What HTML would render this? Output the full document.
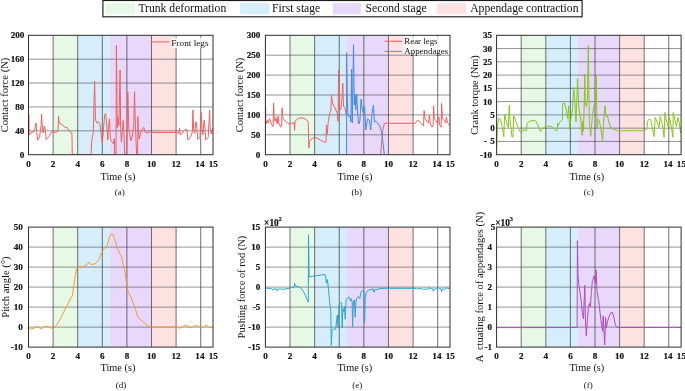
<!DOCTYPE html>
<html lang="en"><head><meta charset="utf-8"><title>Figure</title>
<style>html,body{margin:0;padding:0;background:#fff}body{width:685px;height:391px;overflow:hidden}</style>
</head><body>
<svg width="685" height="391" viewBox="0 0 685 391" style="display:block;font-family:'Liberation Serif', 'DejaVu Serif', serif">
<rect width="685" height="391" fill="#fff"/>
<g class="legend">
<rect x="102.9" y="0.5" width="479.2" height="16.3" fill="#fff" stroke="#1a1a1a" stroke-width="1.15"/>
<rect x="105.5" y="3.1" width="29.5" height="11.2" fill="#e6f9e6"/>
<text x="138.4" y="12.3" font-size="11.65" fill="#111">Trunk deformation</text>
<rect x="240.1" y="3.1" width="29.4" height="11.2" fill="#d6eefc"/>
<text x="272.1" y="12.3" font-size="11.65" fill="#111">First stage</text>
<rect x="332.9" y="3.1" width="28.2" height="11.2" fill="#e8d8fb"/>
<text x="365.6" y="12.3" font-size="11.65" fill="#111">Second stage</text>
<rect x="436.8" y="3.1" width="29.2" height="11.2" fill="#fee2e2"/>
<text x="470.2" y="12.3" font-size="11.65" fill="#111">Appendage contraction</text>
</g>
<g class="plot-a">
<rect x="53.10" y="35.3" width="24.60" height="119.40" fill="#e6f9e6"/>
<rect x="77.70" y="35.3" width="31.98" height="119.40" fill="#d6eefc"/>
<rect x="109.68" y="35.3" width="41.82" height="119.40" fill="#e8d8fb"/>
<rect x="151.50" y="35.3" width="24.60" height="119.40" fill="#fee2e2"/>
<path d="M53.10 35.3V154.7M77.70 35.3V154.7M102.30 35.3V154.7M126.90 35.3V154.7M151.50 35.3V154.7M176.10 35.3V154.7M200.70 35.3V154.7" stroke="#303030" stroke-width="0.68" fill="none"/>
<path d="M28.5 59.18H213.0M28.5 83.06H213.0M28.5 106.94H213.0M28.5 130.82H213.0" stroke="#303030" stroke-width="0.52" fill="none"/>
<polyline fill="none" stroke="#f2605e" stroke-width="1.0" stroke-linejoin="round" points="29.0,114.6 29.2,134.6 30.4,134.1 31.9,131.5 33.4,132.6 35.0,128.4 36.1,123.0 36.5,130.7 37.6,140.2 39.6,136.9 41.1,125.3 41.6,114.1 42.2,126.1 43.1,133.0 44.2,126.1 45.0,127.6 46.2,139.6 48.0,137.6 50.3,134.1 52.6,130.7 54.2,132.6 58.0,131.5 58.5,116.1 59.2,123.0 61.9,124.6 65.2,127.3 67.2,127.6 69.5,131.5 71.9,133.0 72.3,154.5 91.1,154.5 91.8,139.9 93.3,132.4 94.6,81.0 95.5,120.0 97.2,123.3 98.3,121.6 99.8,123.6 102.3,143.1 104.7,114.6 105.8,113.7 106.7,125.4 107.8,140.0 108.6,126.2 109.5,118.9 110.3,138.3 111.8,141.8 113.5,143.5 114.3,138.7 114.7,154.5 116.0,154.5 116.4,45.2 117.3,128.0 118.0,116.8 118.9,125.4 120.1,70.0 120.7,131.2 121.4,142.0 122.3,131.2 123.1,120.5 124.0,134.8 124.7,154.5 126.7,154.5 127.8,91.6 128.8,128.3 130.9,140.8 132.6,135.0 133.8,123.3 134.5,91.5 135.4,125.0 136.6,154.5 137.6,154.5 137.9,116.6 138.4,128.3 139.2,139.1 141.2,130.8 143.7,127.4 145.4,132.4 147.9,132.9 150.4,131.9 152.1,132.4 176.6,132.4 177.5,132.4 178.6,133.6 179.6,128.3 180.3,134.9 182.4,133.3 184.1,130.3 186.3,129.1 186.9,129.9 187.9,139.9 190.8,136.6 192.4,131.6 192.9,110.0 193.6,128.3 194.6,133.3 195.8,121.6 196.6,125.0 197.9,139.6 199.9,137.4 201.2,112.5 201.9,128.3 202.9,134.9 204.1,120.0 204.9,126.6 205.7,139.9 208.2,137.4 209.6,110.3 210.2,126.6 211.2,134.1 212.9,128.3"/>
<rect x="28.5" y="35.3" width="184.50" height="119.40" fill="none" stroke="#2e2e2e" stroke-width="1"/>
<text x="24.3" y="38.30" font-size="9.1" font-weight="bold" text-anchor="end" fill="#111" stroke="#111" stroke-width="0.2">200</text>
<text x="24.3" y="62.18" font-size="9.1" font-weight="bold" text-anchor="end" fill="#111" stroke="#111" stroke-width="0.2">160</text>
<text x="24.3" y="86.06" font-size="9.1" font-weight="bold" text-anchor="end" fill="#111" stroke="#111" stroke-width="0.2">120</text>
<text x="24.3" y="109.94" font-size="9.1" font-weight="bold" text-anchor="end" fill="#111" stroke="#111" stroke-width="0.2">80</text>
<text x="24.3" y="133.82" font-size="9.1" font-weight="bold" text-anchor="end" fill="#111" stroke="#111" stroke-width="0.2">40</text>
<text x="24.3" y="157.70" font-size="9.1" font-weight="bold" text-anchor="end" fill="#111" stroke="#111" stroke-width="0.2">0</text>
<text x="28.50" y="167.10" font-size="9.1" font-weight="bold" text-anchor="middle" fill="#111" stroke="#111" stroke-width="0.2">0</text>
<text x="53.10" y="167.10" font-size="9.1" font-weight="bold" text-anchor="middle" fill="#111" stroke="#111" stroke-width="0.2">2</text>
<text x="77.70" y="167.10" font-size="9.1" font-weight="bold" text-anchor="middle" fill="#111" stroke="#111" stroke-width="0.2">4</text>
<text x="102.30" y="167.10" font-size="9.1" font-weight="bold" text-anchor="middle" fill="#111" stroke="#111" stroke-width="0.2">6</text>
<text x="126.90" y="167.10" font-size="9.1" font-weight="bold" text-anchor="middle" fill="#111" stroke="#111" stroke-width="0.2">8</text>
<text x="151.50" y="167.10" font-size="9.1" font-weight="bold" text-anchor="middle" fill="#111" stroke="#111" stroke-width="0.2">10</text>
<text x="176.10" y="167.10" font-size="9.1" font-weight="bold" text-anchor="middle" fill="#111" stroke="#111" stroke-width="0.2">12</text>
<text x="199.90" y="167.10" font-size="9.1" font-weight="bold" text-anchor="middle" fill="#111" stroke="#111" stroke-width="0.2">14</text>
<text x="213.30" y="167.10" font-size="9.1" font-weight="bold" text-anchor="middle" fill="#111" stroke="#111" stroke-width="0.2">15</text>
<text x="117.95" y="179.90" font-size="10.3" text-anchor="middle" fill="#111">Time (s)</text>
<text x="119.85" y="194.60" font-size="9" text-anchor="middle" fill="#111">(a)</text>
<text transform="translate(7.5 95.00) rotate(-90)" font-size="10.6" text-anchor="middle" fill="#111">Contact force (N)</text>
</g>
<g class="plot-b">
<rect x="290.01" y="35.3" width="24.61" height="119.40" fill="#e6f9e6"/>
<rect x="314.63" y="35.3" width="32.00" height="119.40" fill="#d6eefc"/>
<rect x="346.62" y="35.3" width="41.84" height="119.40" fill="#e8d8fb"/>
<rect x="388.47" y="35.3" width="24.61" height="119.40" fill="#fee2e2"/>
<path d="M290.01 35.3V154.7M314.63 35.3V154.7M339.24 35.3V154.7M363.85 35.3V154.7M388.47 35.3V154.7M413.08 35.3V154.7M437.69 35.3V154.7" stroke="#303030" stroke-width="0.68" fill="none"/>
<path d="M265.4 55.20H450.0M265.4 75.10H450.0M265.4 95.00H450.0M265.4 114.90H450.0M265.4 134.80H450.0" stroke="#303030" stroke-width="0.52" fill="none"/>
<polyline fill="none" stroke="#f2605e" stroke-width="1.0" stroke-linejoin="round" points="265.6,106.1 265.9,124.0 267.4,120.4 268.3,123.1 269.5,118.6 271.8,124.9 273.1,126.7 273.6,102.9 274.2,118.6 274.9,121.3 276.0,117.7 277.2,124.0 278.1,116.0 279.0,124.0 280.8,127.2 281.7,124.9 282.1,107.9 282.8,117.7 284.4,120.4 287.1,122.6 288.9,124.0 291.5,123.7 294.2,122.6 294.6,130.3 295.1,121.3 297.8,118.6 300.5,117.9 304.1,118.3 306.8,120.1 308.2,122.2 308.9,148.2 309.4,141.9 312.1,138.3 314.8,137.4 317.5,138.3 321.1,140.5 324.7,142.3 326.1,141.9 326.4,124.9 327.3,133.9 328.2,122.2 329.7,113.3 330.9,110.6 331.4,95.2 332.7,103.4 335.4,108.8 337.2,113.3 338.1,121.3 338.6,69.9 339.4,107.9 340.8,109.7 341.7,100.7 342.8,83.3 343.5,106.1 344.9,107.9 346.2,115.1"/>
<polyline fill="none" stroke="#f2605e" stroke-width="1.0" stroke-linejoin="round" points="380.7,154.5 381.4,145.5 382.9,129.4 384.3,123.6 386.4,122.9 387.4,123.3 415.1,123.3 416.9,120.8 418.7,120.4 420.5,122.6 422.3,124.9 423.5,125.8 424.1,110.6 425.0,118.6 426.8,121.3 428.5,123.1 429.4,115.1 430.3,124.0 432.1,127.2 433.2,125.8 433.6,105.8 434.3,118.6 435.7,120.4 437.5,123.1 438.9,116.9 439.6,124.9 441.1,127.2 441.6,103.4 442.5,118.6 444.3,120.4 445.6,123.1 446.4,116.9 447.3,122.2 449.1,124.9 449.9,125.8"/>
<polyline fill="none" stroke="#3b8ee8" stroke-width="1.0" stroke-linejoin="round" points="346.6,154.5 346.6,52.6 347.3,100.0 347.9,113.6 349.0,117.0 350.2,116.0 350.9,122.0 351.6,69.0 352.3,123.0 353.5,44.8 354.3,105.0 355.2,95.0 355.8,110.0 356.7,94.0 357.6,113.0 358.6,124.0 359.8,122.0 361.1,99.0 362.3,110.0 363.4,113.0 364.5,106.0 365.8,130.0 367.5,119.0 369.3,120.0 370.7,130.0 372.1,113.0 373.5,105.0 374.4,122.0 375.7,121.0 378.4,124.0 380.2,126.7 381.4,131.2 382.9,141.9 384.3,154.5"/>
<rect x="265.4" y="35.3" width="184.60" height="119.40" fill="none" stroke="#2e2e2e" stroke-width="1"/>
<text x="260.3" y="38.30" font-size="9.1" font-weight="bold" text-anchor="end" fill="#111" stroke="#111" stroke-width="0.2">300</text>
<text x="260.3" y="58.20" font-size="9.1" font-weight="bold" text-anchor="end" fill="#111" stroke="#111" stroke-width="0.2">250</text>
<text x="260.3" y="78.10" font-size="9.1" font-weight="bold" text-anchor="end" fill="#111" stroke="#111" stroke-width="0.2">200</text>
<text x="260.3" y="98.00" font-size="9.1" font-weight="bold" text-anchor="end" fill="#111" stroke="#111" stroke-width="0.2">150</text>
<text x="260.3" y="117.90" font-size="9.1" font-weight="bold" text-anchor="end" fill="#111" stroke="#111" stroke-width="0.2">100</text>
<text x="260.3" y="137.80" font-size="9.1" font-weight="bold" text-anchor="end" fill="#111" stroke="#111" stroke-width="0.2">50</text>
<text x="260.3" y="157.70" font-size="9.1" font-weight="bold" text-anchor="end" fill="#111" stroke="#111" stroke-width="0.2">0</text>
<text x="265.40" y="167.10" font-size="9.1" font-weight="bold" text-anchor="middle" fill="#111" stroke="#111" stroke-width="0.2">0</text>
<text x="290.01" y="167.10" font-size="9.1" font-weight="bold" text-anchor="middle" fill="#111" stroke="#111" stroke-width="0.2">2</text>
<text x="314.63" y="167.10" font-size="9.1" font-weight="bold" text-anchor="middle" fill="#111" stroke="#111" stroke-width="0.2">4</text>
<text x="339.24" y="167.10" font-size="9.1" font-weight="bold" text-anchor="middle" fill="#111" stroke="#111" stroke-width="0.2">6</text>
<text x="363.85" y="167.10" font-size="9.1" font-weight="bold" text-anchor="middle" fill="#111" stroke="#111" stroke-width="0.2">8</text>
<text x="388.47" y="167.10" font-size="9.1" font-weight="bold" text-anchor="middle" fill="#111" stroke="#111" stroke-width="0.2">10</text>
<text x="413.08" y="167.10" font-size="9.1" font-weight="bold" text-anchor="middle" fill="#111" stroke="#111" stroke-width="0.2">12</text>
<text x="436.89" y="167.10" font-size="9.1" font-weight="bold" text-anchor="middle" fill="#111" stroke="#111" stroke-width="0.2">14</text>
<text x="450.30" y="167.10" font-size="9.1" font-weight="bold" text-anchor="middle" fill="#111" stroke="#111" stroke-width="0.2">15</text>
<text x="355.00" y="179.90" font-size="10.3" text-anchor="middle" fill="#111">Time (s)</text>
<text x="356.85" y="194.60" font-size="9" text-anchor="middle" fill="#111">(b)</text>
<text transform="translate(242.9 95.00) rotate(-90)" font-size="10.6" text-anchor="middle" fill="#111">Contact force (N)</text>
</g>
<g class="plot-c">
<rect x="521.20" y="35.3" width="24.60" height="119.40" fill="#e6f9e6"/>
<rect x="545.80" y="35.3" width="31.98" height="119.40" fill="#d6eefc"/>
<rect x="577.78" y="35.3" width="41.82" height="119.40" fill="#e8d8fb"/>
<rect x="619.60" y="35.3" width="24.60" height="119.40" fill="#fee2e2"/>
<path d="M521.20 35.3V154.7M545.80 35.3V154.7M570.40 35.3V154.7M595.00 35.3V154.7M619.60 35.3V154.7M644.20 35.3V154.7M668.80 35.3V154.7" stroke="#303030" stroke-width="0.68" fill="none"/>
<path d="M496.6 48.57H681.1M496.6 61.83H681.1M496.6 75.10H681.1M496.6 88.37H681.1M496.6 101.63H681.1M496.6 114.90H681.1M496.6 128.17H681.1M496.6 141.43H681.1" stroke="#303030" stroke-width="0.52" fill="none"/>
<polyline fill="none" stroke="#86c716" stroke-width="1.0" stroke-linejoin="round" points="496.7,148.2 497.2,128.3 498.8,118.3 500.5,119.1 502.2,127.4 503.8,136.6 504.6,114.1 506.3,121.6 508.3,127.4 509.3,105.3 510.0,120.0 511.0,128.3 512.1,137.4 513.0,136.6 513.6,115.8 515.5,120.0 518.0,127.4 520.5,132.4 523.0,130.8 525.4,129.9 526.3,130.8 527.1,123.3 529.6,121.3 532.9,120.3 535.4,120.8 537.1,123.3 538.8,127.4 540.4,131.6 542.1,129.1 544.6,127.4 547.1,126.5 549.6,126.1 552.1,126.8 554.6,129.3 556.4,131.0 557.3,130.0 557.6,123.2 558.5,125.5 559.4,122.4 561.3,120.8 562.4,119.6 562.7,103.6 564.5,103.3 566.1,108.9 567.7,118.6 568.7,105.8 569.7,129.5 570.8,119.0 572.5,110.0 573.7,87.3 574.7,98.4 576.0,122.0 576.8,100.5 577.5,78.3 578.8,108.7 580.5,116.8 582.1,135.3 582.9,120.9 583.5,131.2 584.3,100.5 584.7,74.4 585.4,104.6 586.4,106.6 587.4,100.5 588.3,45.3 589.3,120.9 590.7,136.3 592.3,116.8 593.8,106.6 595.2,100.5 596.3,75.8 597.0,129.1 597.9,118.9 599.3,120.9 600.9,129.1 602.6,141.4 603.6,120.9 605.0,105.6 606.0,116.8 607.5,115.8 609.1,123.0 611.2,128.1 613.2,129.1 616.3,130.1 618.9,131.6 621.4,130.8 629.6,130.7 644.1,130.7 644.9,129.6 646.9,129.1 647.4,121.6 649.1,119.1 650.8,119.9 652.4,128.3 654.1,136.6 655.2,117.4 656.9,121.6 659.1,127.4 660.2,116.6 661.6,121.6 662.9,128.3 664.1,137.4 664.9,112.5 666.2,119.9 668.2,126.6 669.4,117.4 670.7,123.3 671.9,130.7 672.9,137.4 673.2,112.5 674.9,119.9 676.5,126.6 677.9,117.4 679.0,121.6 680.2,129.9 680.7,133.2"/>
<rect x="496.6" y="35.3" width="184.50" height="119.40" fill="none" stroke="#2e2e2e" stroke-width="1"/>
<text x="492.0" y="38.30" font-size="9.1" font-weight="bold" text-anchor="end" fill="#111" stroke="#111" stroke-width="0.2">35</text>
<text x="492.0" y="51.57" font-size="9.1" font-weight="bold" text-anchor="end" fill="#111" stroke="#111" stroke-width="0.2">30</text>
<text x="492.0" y="64.83" font-size="9.1" font-weight="bold" text-anchor="end" fill="#111" stroke="#111" stroke-width="0.2">25</text>
<text x="492.0" y="78.10" font-size="9.1" font-weight="bold" text-anchor="end" fill="#111" stroke="#111" stroke-width="0.2">20</text>
<text x="492.0" y="91.37" font-size="9.1" font-weight="bold" text-anchor="end" fill="#111" stroke="#111" stroke-width="0.2">15</text>
<text x="492.0" y="104.63" font-size="9.1" font-weight="bold" text-anchor="end" fill="#111" stroke="#111" stroke-width="0.2">10</text>
<text x="494.9" y="117.90" font-size="9.1" font-weight="bold" text-anchor="end" fill="#111" stroke="#111" stroke-width="0.2">5</text>
<text x="494.9" y="131.17" font-size="9.1" font-weight="bold" text-anchor="end" fill="#111" stroke="#111" stroke-width="0.2">0</text>
<text x="494.9" y="144.43" font-size="9.1" font-weight="bold" text-anchor="end" fill="#111" stroke="#111" stroke-width="0.2">-  5</text>
<text x="492.0" y="157.70" font-size="9.1" font-weight="bold" text-anchor="end" fill="#111" stroke="#111" stroke-width="0.2">-10</text>
<text x="496.60" y="167.10" font-size="9.1" font-weight="bold" text-anchor="middle" fill="#111" stroke="#111" stroke-width="0.2">0</text>
<text x="521.20" y="167.10" font-size="9.1" font-weight="bold" text-anchor="middle" fill="#111" stroke="#111" stroke-width="0.2">2</text>
<text x="545.80" y="167.10" font-size="9.1" font-weight="bold" text-anchor="middle" fill="#111" stroke="#111" stroke-width="0.2">4</text>
<text x="570.40" y="167.10" font-size="9.1" font-weight="bold" text-anchor="middle" fill="#111" stroke="#111" stroke-width="0.2">6</text>
<text x="595.00" y="167.10" font-size="9.1" font-weight="bold" text-anchor="middle" fill="#111" stroke="#111" stroke-width="0.2">8</text>
<text x="619.60" y="167.10" font-size="9.1" font-weight="bold" text-anchor="middle" fill="#111" stroke="#111" stroke-width="0.2">10</text>
<text x="644.20" y="167.10" font-size="9.1" font-weight="bold" text-anchor="middle" fill="#111" stroke="#111" stroke-width="0.2">12</text>
<text x="668.00" y="167.10" font-size="9.1" font-weight="bold" text-anchor="middle" fill="#111" stroke="#111" stroke-width="0.2">14</text>
<text x="681.40" y="167.10" font-size="9.1" font-weight="bold" text-anchor="middle" fill="#111" stroke="#111" stroke-width="0.2">15</text>
<text x="586.85" y="179.90" font-size="10.3" text-anchor="middle" fill="#111">Time (s)</text>
<text x="588.65" y="194.60" font-size="9" text-anchor="middle" fill="#111">(c)</text>
<text transform="translate(478.4 95.00) rotate(-90)" font-size="10.4" text-anchor="middle" fill="#111">Crank torque (Nm)</text>
</g>
<g class="plot-d">
<rect x="53.10" y="227.1" width="24.60" height="120.00" fill="#e6f9e6"/>
<rect x="77.70" y="227.1" width="31.98" height="120.00" fill="#d6eefc"/>
<rect x="109.68" y="227.1" width="41.82" height="120.00" fill="#e8d8fb"/>
<rect x="151.50" y="227.1" width="24.60" height="120.00" fill="#fee2e2"/>
<path d="M53.10 227.1V347.1M77.70 227.1V347.1M102.30 227.1V347.1M126.90 227.1V347.1M151.50 227.1V347.1M176.10 227.1V347.1M200.70 227.1V347.1" stroke="#303030" stroke-width="0.68" fill="none"/>
<path d="M28.5 247.10H213.0M28.5 267.10H213.0M28.5 287.10H213.0M28.5 307.10H213.0M28.5 327.10H213.0" stroke="#303030" stroke-width="0.52" fill="none"/>
<polyline fill="none" stroke="#f59a2a" stroke-width="1.0" stroke-linejoin="round" points="28.8,327.9 31.4,329.2 34.6,327.9 37.8,326.3 41.0,329.2 44.2,326.6 47.4,326.3 50.6,327.9 53.8,328.2 56.9,324.7 60.1,319.2 63.3,312.9 66.5,306.5 69.7,300.1 72.3,295.9 73.6,287.3 75.5,274.5 77.1,267.5 79.3,266.9 84.1,266.5 87.3,264.3 88.9,262.1 90.5,264.0 92.7,264.6 95.9,263.3 98.5,260.1 101.0,253.8 103.3,249.9 104.9,247.4 106.5,248.0 108.1,242.6 109.7,236.2 111.3,233.9 112.9,234.6 114.5,238.4 117.0,247.4 119.2,252.2 121.5,256.9 123.4,264.9 125.0,272.5 126.9,285.7 128.2,292.1 130.8,296.9 133.3,303.3 135.6,309.7 137.8,317.0 140.4,319.6 143.6,322.4 146.8,325.0 149.9,326.9 153.1,327.2 177.1,327.2 179.3,328.2 181.9,327.2 185.1,325.0 187.6,326.0 189.9,327.2 192.1,327.9 194.7,325.0 197.2,326.0 199.5,326.6 201.1,328.2 203.6,326.6 205.9,325.0 208.1,326.6 210.7,327.9 212.9,326.9"/>
<rect x="28.5" y="227.1" width="184.50" height="120.00" fill="none" stroke="#2e2e2e" stroke-width="1"/>
<text x="22.8" y="230.10" font-size="9.1" font-weight="bold" text-anchor="end" fill="#111" stroke="#111" stroke-width="0.2">50</text>
<text x="22.8" y="250.10" font-size="9.1" font-weight="bold" text-anchor="end" fill="#111" stroke="#111" stroke-width="0.2">40</text>
<text x="22.8" y="270.10" font-size="9.1" font-weight="bold" text-anchor="end" fill="#111" stroke="#111" stroke-width="0.2">30</text>
<text x="22.8" y="290.10" font-size="9.1" font-weight="bold" text-anchor="end" fill="#111" stroke="#111" stroke-width="0.2">20</text>
<text x="22.8" y="310.10" font-size="9.1" font-weight="bold" text-anchor="end" fill="#111" stroke="#111" stroke-width="0.2">10</text>
<text x="22.8" y="330.10" font-size="9.1" font-weight="bold" text-anchor="end" fill="#111" stroke="#111" stroke-width="0.2">0</text>
<text x="22.8" y="350.10" font-size="9.1" font-weight="bold" text-anchor="end" fill="#111" stroke="#111" stroke-width="0.2">-10</text>
<text x="28.50" y="358.50" font-size="9.1" font-weight="bold" text-anchor="middle" fill="#111" stroke="#111" stroke-width="0.2">0</text>
<text x="53.10" y="358.50" font-size="9.1" font-weight="bold" text-anchor="middle" fill="#111" stroke="#111" stroke-width="0.2">2</text>
<text x="77.70" y="358.50" font-size="9.1" font-weight="bold" text-anchor="middle" fill="#111" stroke="#111" stroke-width="0.2">4</text>
<text x="102.30" y="358.50" font-size="9.1" font-weight="bold" text-anchor="middle" fill="#111" stroke="#111" stroke-width="0.2">6</text>
<text x="126.90" y="358.50" font-size="9.1" font-weight="bold" text-anchor="middle" fill="#111" stroke="#111" stroke-width="0.2">8</text>
<text x="151.50" y="358.50" font-size="9.1" font-weight="bold" text-anchor="middle" fill="#111" stroke="#111" stroke-width="0.2">10</text>
<text x="176.10" y="358.50" font-size="9.1" font-weight="bold" text-anchor="middle" fill="#111" stroke="#111" stroke-width="0.2">12</text>
<text x="199.90" y="358.50" font-size="9.1" font-weight="bold" text-anchor="middle" fill="#111" stroke="#111" stroke-width="0.2">14</text>
<text x="213.30" y="358.50" font-size="9.1" font-weight="bold" text-anchor="middle" fill="#111" stroke="#111" stroke-width="0.2">15</text>
<text x="117.95" y="371.30" font-size="10.3" text-anchor="middle" fill="#111">Time (s)</text>
<text x="120.95" y="388.40" font-size="9" text-anchor="middle" fill="#111">(d)</text>
<text transform="translate(8.7 287.10) rotate(-90)" font-size="10.6" text-anchor="middle" fill="#111">Pitch angle (°)</text>
</g>
<g class="plot-e">
<rect x="290.01" y="227.1" width="24.61" height="120.00" fill="#e6f9e6"/>
<rect x="314.63" y="227.1" width="32.00" height="120.00" fill="#d6eefc"/>
<rect x="346.62" y="227.1" width="41.84" height="120.00" fill="#e8d8fb"/>
<rect x="388.47" y="227.1" width="24.61" height="120.00" fill="#fee2e2"/>
<path d="M290.01 227.1V347.1M314.63 227.1V347.1M339.24 227.1V347.1M363.85 227.1V347.1M388.47 227.1V347.1M413.08 227.1V347.1M437.69 227.1V347.1" stroke="#303030" stroke-width="0.68" fill="none"/>
<path d="M265.4 247.10H450.0M265.4 267.10H450.0M265.4 287.10H450.0M265.4 307.10H450.0M265.4 327.10H450.0" stroke="#303030" stroke-width="0.52" fill="none"/>
<polyline fill="none" stroke="#2ba6cd" stroke-width="1.0" stroke-linejoin="round" points="265.4,288.0 268.5,288.5 271.8,288.7 272.9,290.2 274.0,288.9 276.8,288.9 277.2,290.9 278.3,289.1 281.1,288.7 282.0,289.8 283.7,289.1 288.1,288.5 291.3,287.6 294.2,287.0 294.6,283.3 295.3,285.9 297.9,286.5 300.7,288.0 303.3,291.3 305.5,295.7 307.2,300.0 308.3,302.2 308.5,234.8 309.2,277.2 312.0,276.3 316.3,275.7 320.7,275.0 325.0,274.6 325.8,277.0 326.4,283.2 327.4,279.6 328.5,289.5 329.6,301.5 330.8,311.7 331.3,345.4 332.0,330.2 333.5,329.1 335.7,329.1 337.0,317.2 337.4,315.0 338.0,328.0 339.1,304.1 340.7,302.4 341.7,303.0 342.2,328.0 342.8,308.5 343.9,311.7 344.6,306.3 345.2,319.3 346.1,299.8 347.8,297.6 349.3,297.2 350.4,300.9 351.1,298.7 352.2,302.0 352.6,327.0 353.3,303.0 354.3,299.8 355.2,317.2 355.9,302.0 357.0,297.6 358.7,296.5 359.8,298.7 360.9,292.2 362.4,290.7 363.9,291.1 364.6,322.6 365.2,297.6 366.3,292.2 368.9,290.0 373.3,288.9 373.9,292.2 374.8,290.0 378.7,288.9 384.1,288.3 389.6,288.3 416.1,288.4 416.6,288.9 421.8,288.6 423.5,289.4 428.7,288.9 429.3,287.4 429.9,288.6 432.8,288.9 433.3,291.2 433.9,289.2 436.8,288.6 437.9,287.4 439.1,288.6 441.2,288.9 441.5,291.5 442.0,289.2 446.0,288.9 446.6,287.4 447.7,288.6 449.7,288.4"/>
<rect x="265.4" y="227.1" width="184.60" height="120.00" fill="none" stroke="#2e2e2e" stroke-width="1"/>
<text x="260.3" y="230.10" font-size="9.1" font-weight="bold" text-anchor="end" fill="#111" stroke="#111" stroke-width="0.2">15</text>
<text x="260.3" y="250.10" font-size="9.1" font-weight="bold" text-anchor="end" fill="#111" stroke="#111" stroke-width="0.2">10</text>
<text x="260.3" y="270.10" font-size="9.1" font-weight="bold" text-anchor="end" fill="#111" stroke="#111" stroke-width="0.2">5</text>
<text x="260.3" y="290.10" font-size="9.1" font-weight="bold" text-anchor="end" fill="#111" stroke="#111" stroke-width="0.2">0</text>
<text x="260.3" y="310.10" font-size="9.1" font-weight="bold" text-anchor="end" fill="#111" stroke="#111" stroke-width="0.2">-5</text>
<text x="260.3" y="330.10" font-size="9.1" font-weight="bold" text-anchor="end" fill="#111" stroke="#111" stroke-width="0.2">-10</text>
<text x="260.3" y="350.10" font-size="9.1" font-weight="bold" text-anchor="end" fill="#111" stroke="#111" stroke-width="0.2">-15</text>
<text x="265.40" y="358.50" font-size="9.1" font-weight="bold" text-anchor="middle" fill="#111" stroke="#111" stroke-width="0.2">0</text>
<text x="290.01" y="358.50" font-size="9.1" font-weight="bold" text-anchor="middle" fill="#111" stroke="#111" stroke-width="0.2">2</text>
<text x="314.63" y="358.50" font-size="9.1" font-weight="bold" text-anchor="middle" fill="#111" stroke="#111" stroke-width="0.2">4</text>
<text x="339.24" y="358.50" font-size="9.1" font-weight="bold" text-anchor="middle" fill="#111" stroke="#111" stroke-width="0.2">6</text>
<text x="363.85" y="358.50" font-size="9.1" font-weight="bold" text-anchor="middle" fill="#111" stroke="#111" stroke-width="0.2">8</text>
<text x="388.47" y="358.50" font-size="9.1" font-weight="bold" text-anchor="middle" fill="#111" stroke="#111" stroke-width="0.2">10</text>
<text x="413.08" y="358.50" font-size="9.1" font-weight="bold" text-anchor="middle" fill="#111" stroke="#111" stroke-width="0.2">12</text>
<text x="436.89" y="358.50" font-size="9.1" font-weight="bold" text-anchor="middle" fill="#111" stroke="#111" stroke-width="0.2">14</text>
<text x="450.30" y="358.50" font-size="9.1" font-weight="bold" text-anchor="middle" fill="#111" stroke="#111" stroke-width="0.2">15</text>
<text x="354.80" y="371.30" font-size="10.3" text-anchor="middle" fill="#111">Time (s)</text>
<text x="357.30" y="388.40" font-size="9" text-anchor="middle" fill="#111">(e)</text>
<text transform="translate(245.2 287.10) rotate(-90)" font-size="10.45" text-anchor="middle" fill="#111">Pushing force of rod (N)</text>
<text x="264.10" y="225.50" font-size="9.3" font-weight="bold" fill="#111" stroke="#111" stroke-width="0.2">×10<tspan font-size="5.7" dy="-4.4">2</tspan></text>
</g>
<g class="plot-f">
<rect x="521.20" y="227.1" width="24.60" height="120.00" fill="#e6f9e6"/>
<rect x="545.80" y="227.1" width="31.98" height="120.00" fill="#d6eefc"/>
<rect x="577.78" y="227.1" width="41.82" height="120.00" fill="#e8d8fb"/>
<rect x="619.60" y="227.1" width="24.60" height="120.00" fill="#fee2e2"/>
<path d="M521.20 227.1V347.1M545.80 227.1V347.1M570.40 227.1V347.1M595.00 227.1V347.1M619.60 227.1V347.1M644.20 227.1V347.1M668.80 227.1V347.1" stroke="#303030" stroke-width="0.68" fill="none"/>
<path d="M496.6 247.10H681.1M496.6 267.10H681.1M496.6 287.10H681.1M496.6 307.10H681.1M496.6 327.10H681.1" stroke="#303030" stroke-width="0.52" fill="none"/>
<polyline fill="none" stroke="#b04cc0" stroke-width="1.0" stroke-linejoin="round" points="496.5,327.6 508.0,327.6 508.6,327.0 509.2,327.6 577.1,327.5 577.4,240.7 578.0,276.0 579.2,286.7 581.1,300.6 582.3,312.8 583.5,319.0 584.2,300.6 584.8,285.2 585.4,319.0 586.3,335.8 587.2,322.0 588.5,306.7 589.4,303.6 590.3,306.7 591.5,291.3 592.4,280.6 593.4,278.5 594.0,276.0 594.6,279.1 595.5,283.7 596.1,269.9 597.0,291.3 598.6,300.6 600.1,312.8 601.6,325.1 602.6,331.2 603.2,315.9 604.1,334.3 604.7,345.0 605.6,317.4 606.2,328.2 607.8,320.5 609.3,315.9 610.8,312.8 612.4,312.2 613.9,317.4 615.4,325.1 617.0,327.5 672.0,327.5 672.6,327.0 673.2,327.5 681.0,327.5"/>
<rect x="496.6" y="227.1" width="184.50" height="120.00" fill="none" stroke="#2e2e2e" stroke-width="1"/>
<text x="495.2" y="230.10" font-size="9.1" font-weight="bold" text-anchor="end" fill="#111" stroke="#111" stroke-width="0.2">5</text>
<text x="492.0" y="250.10" font-size="9.1" font-weight="bold" text-anchor="end" fill="#111" stroke="#111" stroke-width="0.2">4</text>
<text x="492.0" y="270.10" font-size="9.1" font-weight="bold" text-anchor="end" fill="#111" stroke="#111" stroke-width="0.2">3</text>
<text x="492.0" y="290.10" font-size="9.1" font-weight="bold" text-anchor="end" fill="#111" stroke="#111" stroke-width="0.2">2</text>
<text x="492.0" y="310.10" font-size="9.1" font-weight="bold" text-anchor="end" fill="#111" stroke="#111" stroke-width="0.2">1</text>
<text x="492.0" y="330.10" font-size="9.1" font-weight="bold" text-anchor="end" fill="#111" stroke="#111" stroke-width="0.2">0</text>
<text x="492.0" y="350.10" font-size="9.1" font-weight="bold" text-anchor="end" fill="#111" stroke="#111" stroke-width="0.2">-1</text>
<text x="496.60" y="358.50" font-size="9.1" font-weight="bold" text-anchor="middle" fill="#111" stroke="#111" stroke-width="0.2">0</text>
<text x="521.20" y="358.50" font-size="9.1" font-weight="bold" text-anchor="middle" fill="#111" stroke="#111" stroke-width="0.2">2</text>
<text x="545.80" y="358.50" font-size="9.1" font-weight="bold" text-anchor="middle" fill="#111" stroke="#111" stroke-width="0.2">4</text>
<text x="570.40" y="358.50" font-size="9.1" font-weight="bold" text-anchor="middle" fill="#111" stroke="#111" stroke-width="0.2">6</text>
<text x="595.00" y="358.50" font-size="9.1" font-weight="bold" text-anchor="middle" fill="#111" stroke="#111" stroke-width="0.2">8</text>
<text x="619.60" y="358.50" font-size="9.1" font-weight="bold" text-anchor="middle" fill="#111" stroke="#111" stroke-width="0.2">10</text>
<text x="644.20" y="358.50" font-size="9.1" font-weight="bold" text-anchor="middle" fill="#111" stroke="#111" stroke-width="0.2">12</text>
<text x="668.00" y="358.50" font-size="9.1" font-weight="bold" text-anchor="middle" fill="#111" stroke="#111" stroke-width="0.2">14</text>
<text x="681.40" y="358.50" font-size="9.1" font-weight="bold" text-anchor="middle" fill="#111" stroke="#111" stroke-width="0.2">15</text>
<text x="586.85" y="371.30" font-size="10.3" text-anchor="middle" fill="#111">Time (s)</text>
<text x="588.35" y="388.40" font-size="9" text-anchor="middle" fill="#111">(f)</text>
<text transform="translate(482.7 287.10) rotate(-90)" font-size="10.5" text-anchor="middle" fill="#111">A  ctuating force of appendages (N)</text>
<text x="495.30" y="225.50" font-size="9.3" font-weight="bold" fill="#111" stroke="#111" stroke-width="0.2">×10<tspan font-size="5.7" dy="-4.4">3</tspan></text>
</g>
<g class="legend-a"><rect x="171" y="37.5" width="40.5" height="10.5" fill="#fff" fill-opacity="0.8"/><path d="M151.5 41.9H169.5" stroke="#f2605e" stroke-width="1"/><text x="171.3" y="45.5" font-size="9.25" fill="#111">Front legs</text></g>
<g class="legend-b"><rect x="403" y="36.5" width="46" height="17.6" fill="#fff" fill-opacity="0.8"/><path d="M384.6 41.25H402" stroke="#f2605e" stroke-width="1.1"/><text x="404.3" y="44.1" font-size="8.9" fill="#111">Rear legs</text><path d="M384.6 51.4H402" stroke="#3b8ee8" stroke-width="0.9"/><text x="404.3" y="54.4" font-size="8.9" fill="#111">Appendages</text></g>
</svg>
</body></html>
